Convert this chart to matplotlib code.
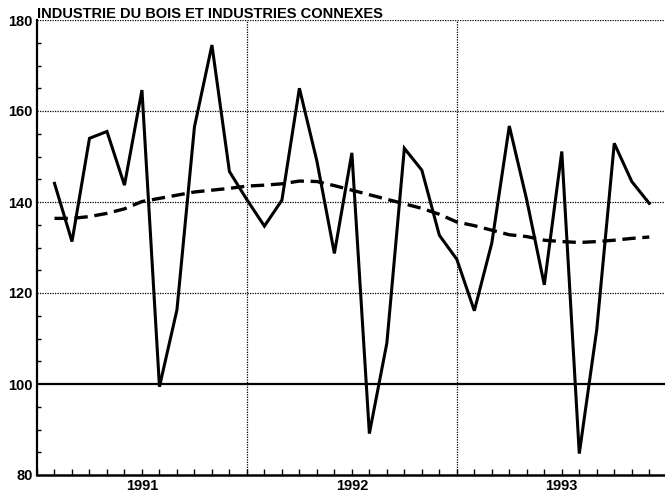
import numpy as np
import matplotlib
matplotlib.use("Agg")
import matplotlib.pyplot as plt
from matplotlib.ticker import MultipleLocator

plt.rcParams['font.family'] = ['Liberation Sans', 'DejaVu Sans']

title = "INDUSTRIE DU BOIS ET INDUSTRIES CONNEXES"
years = ["1991", "1992", "1993"]

# monthly index, raw series (solid) and trend (dashed)
raw = [144.1, 131.3, 154.0, 155.5, 143.7, 164.6, 99.4, 116.3, 156.5, 174.5,
       146.7, 140.5, 134.7, 140.4, 165.0, 149.0, 128.7, 150.8, 89.1, 109.0,
       151.8, 147.0, 132.7, 127.4, 116.1, 131.0, 156.7, 140.4, 121.8, 151.1,
       84.7, 112.0, 152.9, 144.5, 139.7]
trend = [136.4, 136.4, 136.8, 137.5, 138.5, 140.1, 140.8, 141.5, 142.2, 142.6,
         143.0, 143.5, 143.7, 144.0, 144.6, 144.5, 143.6, 142.6, 141.6, 140.6,
         139.6, 138.6, 137.3, 135.6, 134.8, 133.8, 132.8, 132.4, 131.6, 131.3,
         131.1, 131.3, 131.6, 132.0, 132.3]
months = np.arange(1, len(raw) + 1)

fig = plt.figure(figsize=(6.65, 4.97), dpi=100)
ax = fig.add_axes([37 / 665, 22 / 497, 1 - 37 / 665, 455 / 497])

# grid
for v in [120, 140, 160, 180]:
    ax.axhline(v, color='black', lw=0.9, ls=(0, (1, 1)), zorder=1)
ax.axhline(100, color='black', lw=1.6, zorder=1)
for m in [12, 24]:
    ax.axvline(m, color='black', lw=0.9, ls=(0, (1, 1)), zorder=1)

ax.plot(months, raw, color='black', lw=2.2, solid_joinstyle='miter', zorder=3)
ax.plot(months, trend, color='black', lw=2.4, ls=(0, (4, 2)), zorder=2)

ax.set_xlim(0, 35.9)
ax.set_ylim(80, 180)

ax.spines['top'].set_visible(False)
ax.spines['right'].set_visible(False)
ax.spines['left'].set_linewidth(1.6)
ax.spines['bottom'].set_linewidth(1.8)

ax.set_yticks([80, 100, 120, 140, 160, 180])
ax.yaxis.set_minor_locator(MultipleLocator(5))
ax.set_xticks([6, 18, 30])
ax.set_xticklabels(years)
ax.xaxis.set_minor_locator(MultipleLocator(1))
ax.tick_params(which='both', direction='in', color='black', width=1.0)
ax.tick_params(axis='y', which='major', length=0, pad=3, labelsize=10.5)
ax.tick_params(axis='y', which='minor', length=3)
ax.tick_params(axis='x', which='both', length=4, pad=3, labelsize=10.5)
for lab in ax.get_xticklabels() + ax.get_yticklabels():
    lab.set_fontweight('bold')

fig.text(37 / 665, 1 - 18 / 497, title, fontsize=10.5, fontweight='bold',
         ha='left', va='baseline')

fig.savefig("out.png", dpi=100)
